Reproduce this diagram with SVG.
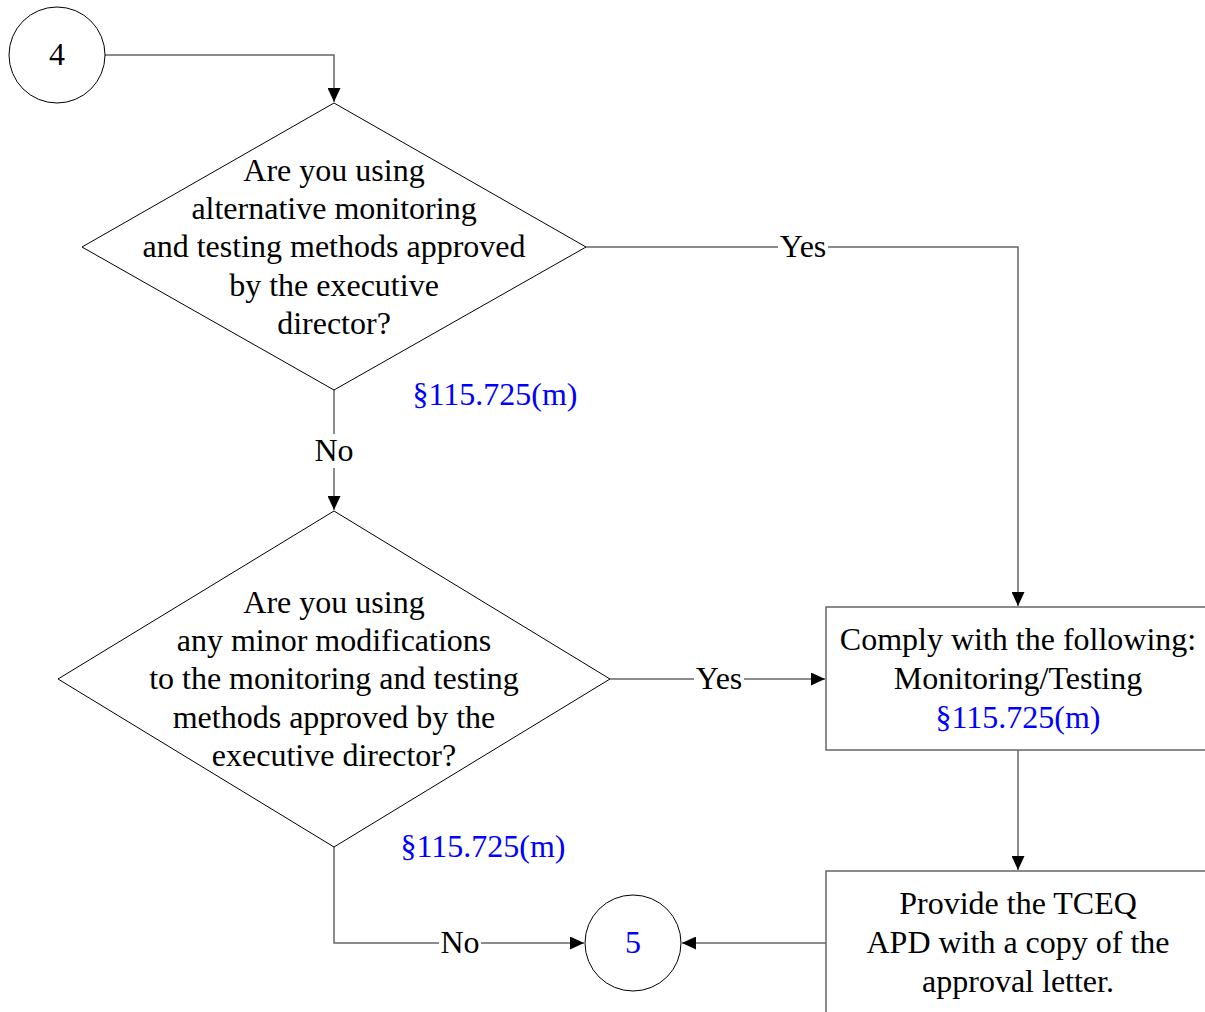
<svg xmlns="http://www.w3.org/2000/svg" width="1205" height="1012" viewBox="0 0 1205 1012">
<defs>
<marker id="ah" viewBox="0 0 14 13" refX="14" refY="6.5" markerWidth="14" markerHeight="13" markerUnits="userSpaceOnUse" orient="auto">
<path d="M0,0 L14,6.5 L0,13 z" fill="#000"/>
</marker>
</defs>
<style>
text{font-family:"Liberation Serif","Times New Roman",serif;font-size:32px;text-anchor:middle;fill:#000}
.ref{fill:#0000ff}
.shape{fill:#fff;stroke:#000;stroke-width:1}
.box{fill:#fff;stroke:#666;stroke-width:1.5}
.conn{fill:none;stroke:#666;stroke-width:1.5}
.lbl{fill:#fff;stroke:none}
</style>
<rect width="1205" height="1012" fill="#fff"/>
<g id="connectors">
<path class="conn" d="M105,55 H334 V102" marker-end="url(#ah)"/>
<path class="conn" d="M586,247 H1018 V606" marker-end="url(#ah)"/>
<path class="conn" d="M334,390 V510" marker-end="url(#ah)"/>
<path class="conn" d="M610,679 H825" marker-end="url(#ah)"/>
<path class="conn" d="M1018,750 V870" marker-end="url(#ah)"/>
<path class="conn" d="M334,847 V943 H584" marker-end="url(#ah)"/>
<path class="conn" d="M826,943 H682" marker-end="url(#ah)"/>
<rect class="lbl" x="778" y="230" width="50" height="34"/>
<text x="803" y="257">Yes</text>
<rect class="lbl" x="313" y="434" width="42" height="34"/>
<text x="334" y="461">No</text>
<rect class="lbl" x="694" y="662" width="50" height="34"/>
<text x="719" y="689">Yes</text>
<rect class="lbl" x="439" y="926" width="42" height="34"/>
<text x="460" y="953">No</text>
</g>
<g id="node-4">
<circle class="shape" cx="57" cy="55" r="48"/>
<text x="57" y="65">4</text>
</g>
<g id="node-d1">
<polygon class="shape" points="334,103 586,247 334,390 82,247"/>
<text x="334" y="181">Are you using</text>
<text x="334" y="219">alternative monitoring</text>
<text x="334" y="257">and testing methods approved</text>
<text x="334" y="296">by the executive</text>
<text x="334" y="334">director?</text>
</g>
<g id="ref-1">
<text class="ref" x="495" y="405">§115.725(m)</text>
</g>
<g id="node-d2">
<polygon class="shape" points="334,511 610,679 334,847 58,679"/>
<text x="334" y="613">Are you using</text>
<text x="334" y="651">any minor modifications</text>
<text x="334" y="689">to the monitoring and testing</text>
<text x="334" y="728">methods approved by the</text>
<text x="334" y="766">executive director?</text>
</g>
<g id="ref-2">
<text class="ref" x="483" y="857">§115.725(m)</text>
</g>
<g id="node-comply">
<rect class="box" x="826" y="607" width="390" height="143"/>
<text x="1018" y="650">Comply with the following:</text>
<text x="1018" y="689">Monitoring/Testing</text>
<text class="ref" x="1018" y="728">§115.725(m)</text>
</g>
<g id="node-provide">
<rect class="box" x="826" y="871" width="390" height="160"/>
<text x="1018" y="914">Provide the TCEQ</text>
<text x="1018" y="953">APD with a copy of the</text>
<text x="1018" y="992">approval letter.</text>
</g>
<g id="node-5">
<circle class="shape" cx="633" cy="943" r="48"/>
<text class="ref" x="633" y="953">5</text>
</g>
</svg>
